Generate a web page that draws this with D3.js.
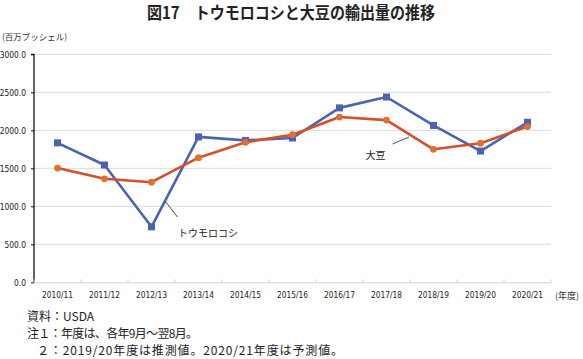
<!DOCTYPE html>
<html><head><meta charset="utf-8">
<script src="https://cdn.jsdelivr.net/npm/d3@7"></script>
<style>body{margin:0;background:#fff}svg{display:block}text{font-family:"Noto Sans CJK JP","Noto Sans",sans-serif}</style>
</head><body><svg id="c" width="583" height="359"></svg>
<script>
const categories = ["2010/11","2011/12","2012/13","2013/14","2014/15","2015/16","2016/17","2017/18","2018/19","2019/20","2020/21"];
const cornValues = [1835,1543,730,1913,1867,1899,2295,2438,2064,1727,2105];
const soyValues = [1503,1362,1317,1640,1842,1942,2174,2134,1750,1830,2049];
const yTicks = [0,500,1000,1500,2000,2500,3000];
const titleText = "図17　トウモロコシと大豆の輸出量の推移";
const notes = ["資料：USDA","注１：年度は、各年9月～翌8月。","２：2019/20年度は推測値。2020/21年度は予測値。"];

const svg = d3.select("#c");
const L = 34, R = 551, T = 54.3, B = 282.3;
const x = d3.scaleBand().domain(categories).range([L, R]);
const y = d3.scaleLinear().domain([0,3000]).range([B, T]);
const cx = d => x(d) + x.bandwidth()/2;

svg.append("text").attr("x",147).attr("y",19).attr("textLength",288).attr("lengthAdjust","spacingAndGlyphs")
  .attr("font-size",16.5).attr("font-weight","bold").attr("fill","#222").text(titleText);
svg.append("text").attr("x",2).attr("y",40).attr("font-size",8.5).attr("fill","#333").text("(百万ブッシェル)");

// gridlines
svg.append("g").selectAll("line").data(yTicks.filter(v=>v>0)).join("line")
  .attr("x1",L).attr("x2",R).attr("y1",d=>y(d)).attr("y2",d=>y(d))
  .attr("stroke","#d9d9d9").attr("stroke-width",1);

// y axis
const ya = svg.append("g").attr("transform",`translate(${L},0)`)
  .call(d3.axisLeft(y).tickValues(yTicks).tickFormat(d3.format(".1f")).tickSize(3).tickPadding(5));
ya.select(".domain").attr("stroke","#111").attr("stroke-width",1.3).attr("d",`M-3,${T}H0V${B}`);
ya.selectAll(".tick line").attr("stroke","#111");
ya.selectAll(".tick text").attr("font-size",8.4).attr("fill","#222")
  .style("font-family","'DejaVu Sans Condensed','Liberation Sans Narrow',sans-serif");

// x axis
const xa = svg.append("g").attr("transform",`translate(0,${B})`)
  .call(d3.axisBottom(x).tickSize(0).tickPadding(10));
xa.select(".domain").attr("stroke","#d0d0d0");
xa.selectAll(".tick text").attr("font-size",8.3).attr("fill","#222")
  .style("font-family","'DejaVu Sans Condensed','Liberation Sans Narrow',sans-serif");
svg.append("g").selectAll("line").data(d3.range(categories.length+1)).join("line")
  .attr("x1",i=>L+i*x.step()).attr("x2",i=>L+i*x.step()).attr("y1",B).attr("y2",B-3)
  .attr("stroke","#d0d0d0");
svg.append("text").attr("x",555).attr("y",299).attr("font-size",9).attr("fill","#333").text("(年度)");

const line = d3.line().x((d,i)=>cx(categories[i])).y(d=>y(d));
const blue = "#4a64b2", orange = "#d2502a";
svg.append("path").datum(cornValues).attr("d",line).attr("fill","none").attr("stroke",blue).attr("stroke-width",2.6).attr("stroke-linejoin","round");
svg.append("path").datum(soyValues).attr("d",line).attr("fill","none").attr("stroke",orange).attr("stroke-width",2.6).attr("stroke-linejoin","round");
svg.append("g").selectAll("rect").data(cornValues).join("rect")
  .attr("x",(d,i)=>cx(categories[i])-3.5).attr("y",d=>y(d)-3.5).attr("width",7).attr("height",7).attr("fill",blue);
svg.append("g").selectAll("circle").data(soyValues).join("circle")
  .attr("cx",(d,i)=>cx(categories[i])).attr("cy",d=>y(d)).attr("r",3.4).attr("fill","#e0702f");

// annotations
svg.append("line").attr("x1",165.5).attr("y1",201.5).attr("x2",177.5).attr("y2",217).attr("stroke","#222").attr("stroke-width",0.8);
svg.append("text").attr("x",178).attr("y",237).attr("font-size",10).attr("fill","#222").text("トウモロコシ");
svg.append("line").attr("x1",392.5).attr("y1",144).attr("x2",409).attr("y2",137).attr("stroke","#222").attr("stroke-width",0.8);
svg.append("text").attr("x",365.5).attr("y",159).attr("font-size",10).attr("fill","#222").text("大豆");

const noteX = [27,27,37], noteLen = [null,171,306];
notes.forEach((t,i)=>{
  const tx = svg.append("text").attr("x",noteX[i]).attr("y",321+i*17).attr("font-size",12)
    .attr("fill","#222").text(t);
  if (noteLen[i]) tx.attr("textLength",noteLen[i]).attr("lengthAdjust","spacing");
});
</script></body></html>
